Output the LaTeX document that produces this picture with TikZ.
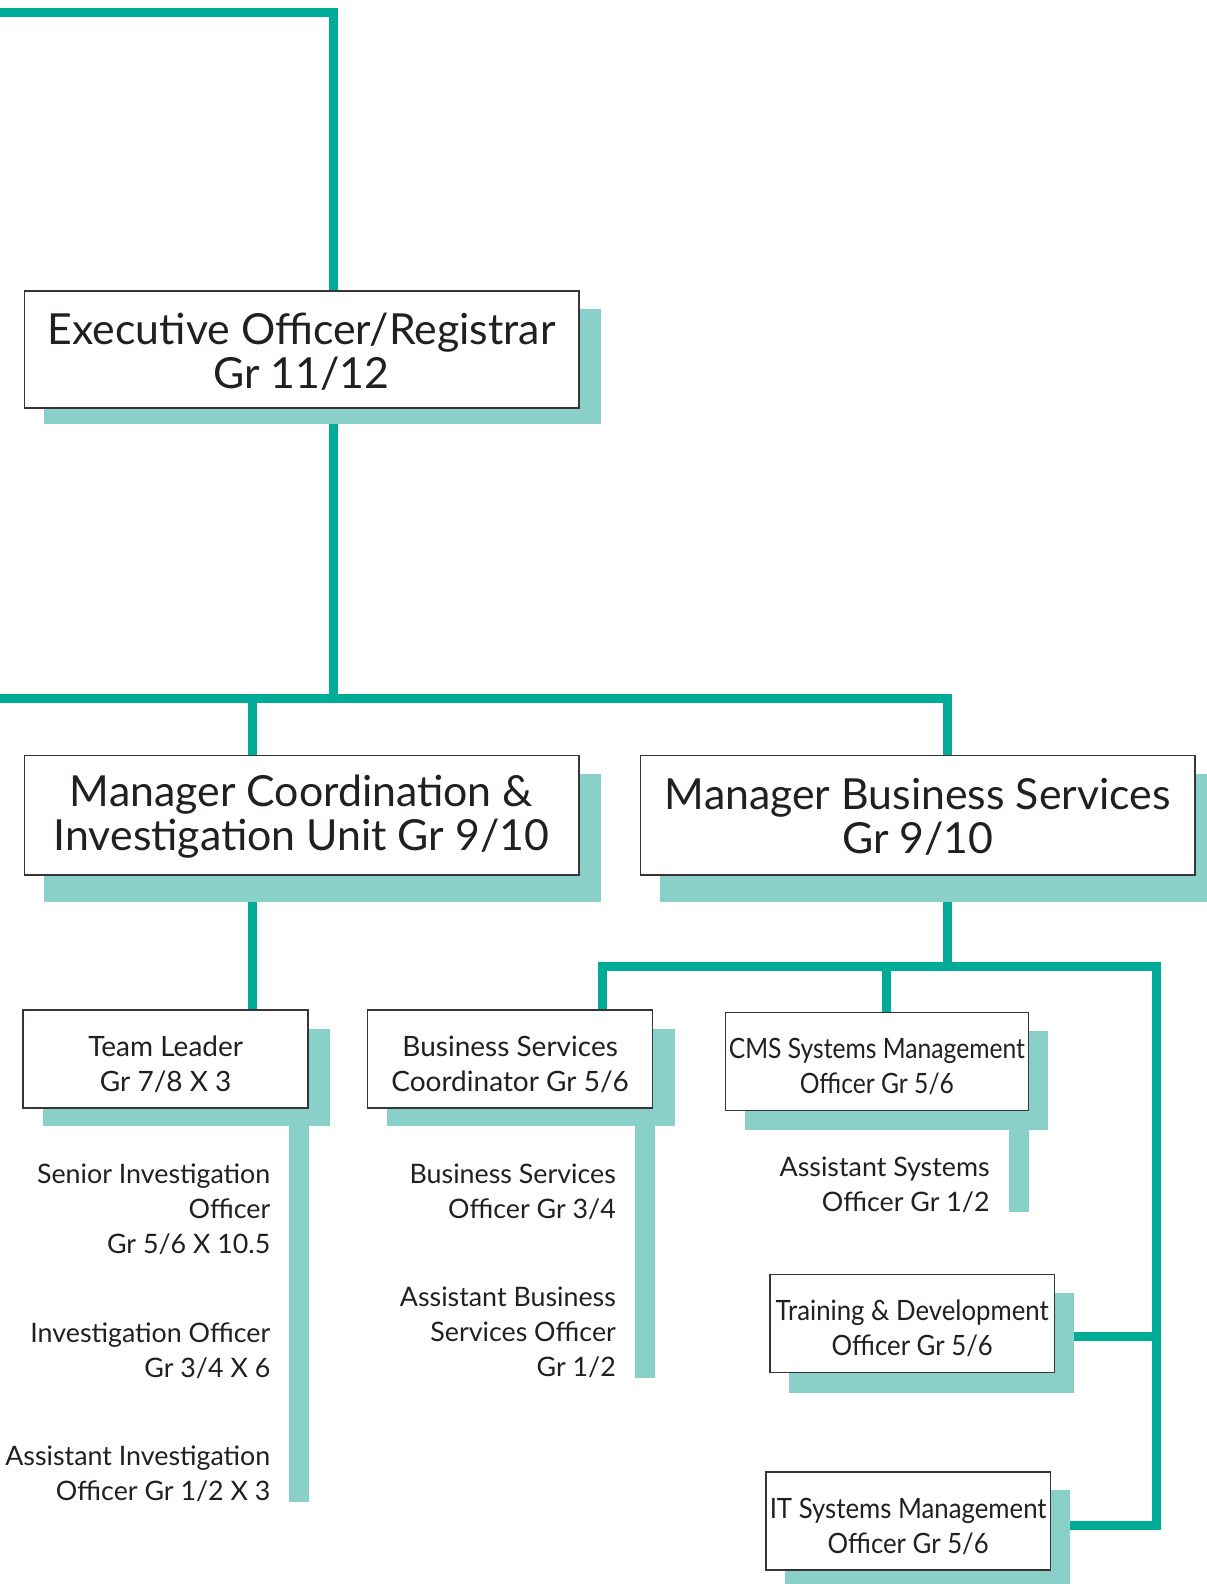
\documentclass[tikz,border=0pt]{standalone}
\usepackage{fontspec}
\setmainfont{Lato}
\newfontfamily\latocond[FakeStretch=0.88]{Lato}
\newfontfamily\latonarrow[FakeStretch=0.92]{Lato}
\usetikzlibrary{calc}
\definecolor{tealdark}{RGB}{0,172,152}
\definecolor{teallight}{RGB}{137,209,200}
\definecolor{ink}{RGB}{35,31,32}
\newcommand{\lift}[1]{\rule{0pt}{#1}}
\pgfdeclarelayer{lines}
\pgfdeclarelayer{shades}
\pgfsetlayers{lines,shades,main}

\begin{document}
\begin{tikzpicture}[x=0.505pt,y=-0.505pt,
  post/.style={draw=ink!90,line width=0.75pt,fill=white,inner sep=0pt,align=center,text=ink},
  bigpost/.style={post,minimum width=277.2pt,minimum height=59.6pt,font=\fontsize{21.4}{22}\selectfont},
  smallpost/.style={post,minimum width=142.4pt,minimum height=49pt,font=\fontsize{14}{17.5}\selectfont},
  role/.style={anchor=north east,inner sep=0pt,align=right,text=ink,font=\fontsize{13.4}{17.5}\selectfont},
  trunk/.style={draw=tealdark,line width=4.5pt,line join=miter}]
  \useasboundingbox (0,0) rectangle (1194,1568);
  % posts
  \node[bigpost,minimum height=58.6pt] (exec) at (298.5,346) {\lift{17.5pt}Executive Officer/Registrar\\Gr 11/12};
  \node[bigpost] (mgrci) at (298.5,807) {\lift{17.5pt}Manager Coordination \&\\Investigation Unit Gr 9/10};
  \node[bigpost] (mgrbs) at (908.5,807) {\lift{17.5pt}Manager Business Services\\Gr 9/10};
  \node[smallpost] (tl) at (164,1048.5) {\lift{15.3pt}Team Leader\\Gr 7/8 X 3};
  \node[smallpost] (bsc) at (505,1048.5) {\lift{15.3pt}Business Services\\Coordinator Gr 5/6};
  \node[smallpost,minimum width=151.5pt,font=\fontsize{14}{17.5}\latocond] (cms) at (868,1051) {\lift{15.3pt}CMS Systems Management\\Officer Gr 5/6};
  \node[smallpost,font=\fontsize{14}{17.5}\latonarrow] (td) at (903,1310) {\lift{15.3pt}Training \& Development\\Officer Gr 5/6};
  \node[smallpost,font=\fontsize{14}{17.5}\latonarrow] (it) at (899,1505.5) {\lift{15.3pt}IT Systems Management\\Officer Gr 5/6};
  % roles without a box
  \node[role] (sio) at (268,1152) {Senior Investigation\\Officer\\Gr 5/6 X 10.5};
  \node[role] (io) at (268,1309) {Investigation Officer\\Gr 3/4 X 6};
  \node[role] (aio) at (268,1431) {Assistant Investigation\\Officer Gr 1/2 X 3};
  \node[role] (bso) at (610,1152) {Business Services\\Officer Gr 3/4};
  \node[role] (abso) at (610,1274) {Assistant Business\\Services Officer\\Gr 1/2};
  \node[role] (aso) at (980,1145) {Assistant Systems\\Officer Gr 1/2};
  % shadows
  \begin{pgfonlayer}{shades}
    \foreach \n/\dx/\dy in {exec/21/15,mgrci/21/26,mgrbs/21/26,tl/21/17,bsc/21/17,cms/19/18,td/18/20,it/18/40}
      \fill[teallight] ($(\n.north west)+(20,19)$) rectangle ($(\n.south east)+(\dx,\dy)$);
    \fill[teallight] ($(tl.south east)+(-20,0)$) rectangle ($(tl.south east)+(0,389)$);
    \fill[teallight] ($(bsc.south east)+(-18,0)$) rectangle ($(bsc.south east)+(2,266)$);
    \fill[teallight] ($(cms.south east)+(-20,0)$) rectangle ($(cms.south east)+(0,99)$);
  \end{pgfonlayer}
  % connectors
  \begin{pgfonlayer}{lines}
    \coordinate (top) at (330,12);
    \coordinate (bus) at (330,691);
    \coordinate (busL) at (0,691);
    \coordinate (busCI) at (250,691);
    \coordinate (busBS) at (938,691);
    \coordinate (subL) at (596,957);
    \coordinate (subC) at (878,957);
    \coordinate (subR) at (1145,957);
    \coordinate (tdJ) at (1145,1323);
    \coordinate (itJ) at (1145,1510);
    \draw[trunk] (0,12) -- (top) -- (top |- exec.center);
    \draw[trunk] (exec.center -| bus) -- (bus);
    \draw[trunk] (busL) -- (busBS) -- (busBS |- mgrbs.center);
    \draw[trunk] (busCI |- mgrci.center) -- (busCI) ;
    \draw[trunk] (busCI |- mgrci.center) -- (busCI |- tl.center);
    \draw[trunk] (busBS |- mgrbs.center) -- (busBS |- subL);
    \draw[trunk] (subL |- bsc.center) -- (subL) -- (subR) -- (itJ) -- (itJ -| it.center);
    \draw[trunk] (subC) -- (subC |- cms.center);
    \draw[trunk] (tdJ) -- (tdJ -| td.center);
  \end{pgfonlayer}
\end{tikzpicture}
\end{document}
